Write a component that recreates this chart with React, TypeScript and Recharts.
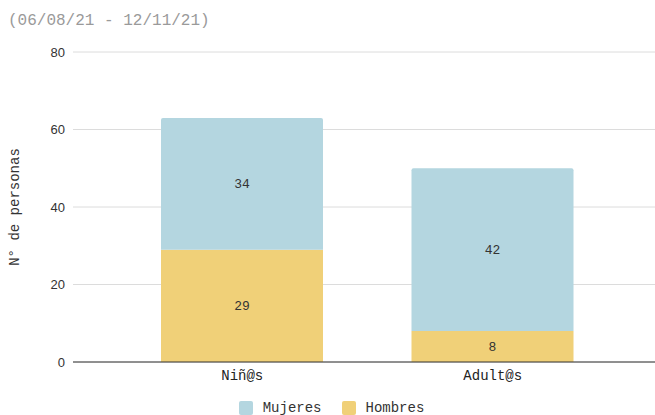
import React from 'react';
import {
  BarChart,
  Bar,
  XAxis,
  YAxis,
  CartesianGrid,
  LabelList,
} from 'recharts';

const categories = ['Niñ@s', 'Adult@s'];
const hombres = [29, 8];
const mujeres = [34, 42];
const yTicks = [0, 20, 40, 60, 80];

const COLOR_MUJERES = '#b4d6e0';
const COLOR_HOMBRES = '#f0d078';
const MONO = '"Liberation Mono", "DejaVu Sans Mono", monospace';

const data = categories.map((name, i) => ({
  name,
  Hombres: hombres[i],
  Mujeres: mujeres[i],
}));

const legendItems = [
  { name: 'Mujeres', color: COLOR_MUJERES },
  { name: 'Hombres', color: COLOR_HOMBRES },
];

const labelStyle = { fontFamily: MONO, fontSize: 13, fill: '#333' };

export default function App() {
  return (
    <div
      style={{
        position: 'absolute',
        left: 0,
        top: 0,
        width: 655,
        height: 415,
        background: '#fff',
        fontFamily: MONO,
      }}
    >
      <div
        style={{
          position: 'absolute',
          left: 8,
          top: 12,
          fontSize: 16,
          color: '#9a9a9a',
          fontFamily: MONO,
        }}
      >
        (06/08/21 - 12/11/21)
      </div>
      <BarChart
        width={655}
        height={415}
        data={data}
        margin={{ top: 52, right: 0, bottom: 28, left: 0 }}
      >
        <CartesianGrid vertical={false} stroke="#dcdcdc" />
        <XAxis
          dataKey="name"
          height={25}
          padding={{ left: 44, right: 37 }}
          tickLine={false}
          axisLine={{ stroke: '#333', strokeWidth: 1 }}
          tick={{ fill: '#222', fontSize: 14, fontFamily: MONO }}
        />
        <YAxis
          width={73}
          domain={[0, 80]}
          ticks={yTicks}
          axisLine={false}
          tickLine={false}
          tick={{ fill: '#333', fontSize: 13, fontFamily: '"Liberation Sans", Arial, sans-serif' }}
          label={{
            value: 'N° de personas',
            angle: -90,
            position: 'insideLeft',
            offset: 14,
            textAnchor: 'middle',
            style: { textAnchor: 'middle', fill: '#333', fontSize: 14, fontFamily: MONO },
          }}
        />
        <Bar dataKey="Hombres" stackId="a" fill={COLOR_HOMBRES} barSize={162} isAnimationActive={false}>
          <LabelList dataKey="Hombres" position="center" style={labelStyle} />
        </Bar>
        <Bar
          dataKey="Mujeres"
          stackId="a"
          fill={COLOR_MUJERES}
          barSize={162}
          radius={[2, 2, 0, 0]}
          isAnimationActive={false}
        >
          <LabelList dataKey="Mujeres" position="center" style={labelStyle} />
        </Bar>
      </BarChart>
      <div
        style={{
          position: 'absolute',
          left: 4,
          width: 655,
          top: 400,
          display: 'flex',
          justifyContent: 'center',
          gap: 20,
          fontSize: 14,
          color: '#333',
        }}
      >
        {legendItems.map((it) => (
          <div key={it.name} style={{ display: 'flex', alignItems: 'center', gap: 10 }}>
            <span
              style={{
                display: 'inline-block',
                width: 14,
                height: 14,
                borderRadius: 2,
                background: it.color,
              }}
            />
            <span>{it.name}</span>
          </div>
        ))}
      </div>
    </div>
  );
}
